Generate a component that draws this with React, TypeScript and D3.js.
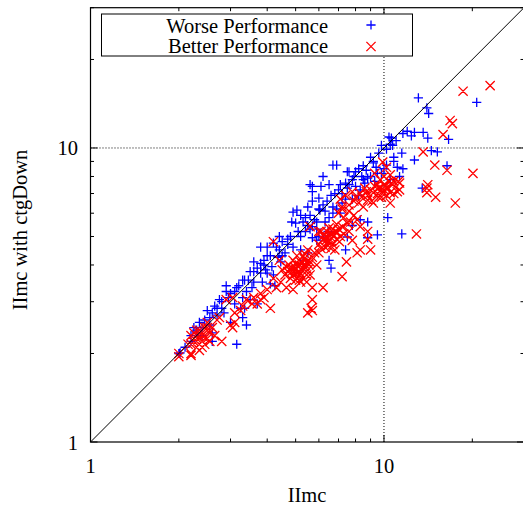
import React from 'react';
import * as d3 from 'd3';

// IImc (x) vs IImc with ctgDown (y)
const worse: [number, number][] = [
  [20.7, 14.3], [13.1, 14.8], [14.0, 13.7], [14.2, 13.1], [16.6, 10.7], [12.0, 11.4], [12.4, 11.0],
  [12.7, 11.3], [11.6, 11.2], [13.6, 11.3], [14.1, 10.8], [10.6, 10.8], [14.5, 9.8], [15.2, 9.7],
  [16.4, 8.7], [13.5, 7.3], [10.3, 5.8], [11.5, 5.1], [9.5, 5.06], [10.4, 10.9], [10.7, 10.2],
  [9.8, 10.2], [10.2, 9.9], [10.5, 10.3], [9.6, 9.6], [10.8, 9.3], [11.5, 9.6], [11.0, 10.6],
  [6.7, 8.75], [7.5, 8.3], [8.2, 8.5], [9.2, 8.9], [10.2, 8.75], [11.1, 8.6], [11.6, 8.5],
  [12.7, 9.1], [6.2, 8.0], [5.7, 7.4], [6.1, 7.4], [6.5, 7.5], [7.1, 7.5], [7.4, 7.6], [7.8, 7.8],
  [8.3, 7.2], [8.8, 7.9], [9.5, 8.2], [9.8, 8.2], [10.5, 7.8], [11.3, 8.0], [5.7, 6.6], [6.0, 6.75],
  [5.05, 6.15], [4.9, 6.05], [4.85, 5.6], [5.0, 5.55], [5.5, 5.45], [5.9, 5.6], [6.05, 6.15],
  [6.7, 6.0], [7.1, 6.0], [7.8, 5.45], [8.3, 5.7], [8.8, 5.6], [7.5, 4.98], [7.4, 4.5], [8.8, 4.95],
  [6.5, 4.15], [6.6, 3.9], [5.7, 4.95], [5.9, 4.86], [6.2, 4.98], [6.45, 5.2], [3.8, 4.6], [4.0, 4.6],
  [4.2, 4.75], [4.5, 4.8], [4.7, 4.7], [4.35, 4.25], [3.9, 4.15], [3.8, 4.05], [3.6, 4.1], [3.5, 3.8],
  [3.45, 3.55], [3.8, 3.75], [4.0, 3.75], [4.2, 3.7], [4.25, 3.4], [4.1, 3.45], [3.85, 3.5], [3.3, 3.55],
  [3.15, 3.35], [3.1, 3.25], [2.9, 3.4], [2.9, 3.25], [2.95, 3.1], [3.4, 3.25], [3.5, 3.05], [3.7, 2.95],
  [3.1, 2.95], [3.25, 2.85], [3.35, 2.85], [2.75, 3.05], [2.8, 2.85], [2.7, 2.85], [2.6, 2.75],
  [2.7, 2.7], [2.85, 2.75], [2.5, 2.8], [2.55, 2.65], [3.0, 2.55], [3.3, 2.65], [3.4, 2.5], [2.35, 2.55],
  [2.4, 2.45], [2.3, 2.4], [2.6, 2.2], [2.6, 2.35], [3.15, 2.15], [2.25, 2.45], [2.3, 2.35], [2.2, 2.3],
  [2.0, 2.0], [2.02, 2.01], [2.1, 2.1], [5.2, 4.5], [5.5, 4.4], [5.3, 4.15], [5.7, 5.4], [5.6, 5.3],
  [6.0, 5.0], [5.6, 7.5], [5.7, 7.1], [7.6, 8.3], [6.9, 8.75], [3.6, 3.8], [3.9, 4.0], [4.4, 4.5],
  [4.6, 4.4], [4.8, 5.0], [5.1, 5.2], [5.3, 5.6], [5.6, 5.9], [6.2, 6.4], [6.6, 6.9], [7.0, 7.2],
  [7.6, 7.5], [8.0, 8.3], [8.5, 8.7], [9.0, 9.3], [6.3, 6.1], [6.7, 6.3], [7.2, 6.5], [7.8, 6.7],
  [8.2, 6.9], [8.6, 7.6], [3.35, 3.55],
  [3.0, 3.2], [3.2, 3.4], [3.3, 3.1], [3.6, 3.5], [3.7, 3.9], [4.1, 4.3], [4.3, 4.6], [4.5, 4.3],
  [4.7, 4.9], [4.9, 4.6], [5.2, 5.0], [5.4, 5.2], [5.4, 5.8], [5.8, 5.7], [6.0, 6.2], [6.4, 6.6],
  [6.8, 7.0], [7.2, 7.0], [7.5, 7.3], [7.9, 8.0], [8.4, 8.0], [8.7, 8.4], [9.2, 9.0], [9.4, 8.6],
  [2.8, 3.0], [2.65, 2.9], [2.45, 2.6], [2.55, 2.5], [2.2, 2.2], [2.4, 2.3], [3.55, 3.35], [3.95, 3.85],
  [4.45, 4.1], [4.15, 3.95], [5.9, 5.3], [6.3, 5.6], [6.5, 5.8], [6.9, 6.2], [7.4, 6.7], [8.0, 7.4],
  [8.5, 7.8], [9.0, 8.0], [9.3, 7.7], [10.0, 8.5], [10.8, 9.0], [5.5, 6.3], [5.2, 5.9], [4.4, 5.0],
  [4.0, 4.3],
];

const better: [number, number][] = [
  [23, 16.3], [18.6, 15.6], [16.8, 12.4], [17.1, 12.1], [15.9, 11.1], [13.6, 9.7], [14.9, 8.75],
  [16.4, 8.4], [20.1, 8.2], [14.1, 7.5], [14.0, 7.3], [15.0, 6.8], [17.5, 6.5], [12.9, 5.1],
  [2.2, 2.3], [2.25, 2.25], [2.3, 2.2], [2.35, 2.3], [2.4, 2.35], [2.3, 2.4], [2.4, 2.2], [2.45, 2.3],
  [2.35, 2.15], [2.5, 2.4], [2.3, 2.1], [2.4, 2.1], [2.45, 2.45], [2.2, 2.15], [2.5, 2.25], [2.55, 2.35],
  [2.0, 2.0], [2.0, 1.95], [2.2, 2.0], [2.15, 2.15], [2.5, 2.45], [2.5, 2.55], [2.7, 2.6], [2.75, 2.65],
  [3.0, 2.5], [3.1, 2.55], [2.8, 2.2], [3.25, 2.8], [3.1, 2.75], [2.9, 3.05], [3.05, 3.1], [3.4, 3.05],
  [3.55, 2.95], [3.8, 3.2], [3.9, 3.1], [3.8, 3.05], [4.3, 3.35], [4.65, 3.35], [4.9, 3.3], [4.1, 2.85],
  [3.7, 2.95], [4.2, 4.8], [4.4, 4.15], [4.65, 3.95], [4.7, 3.8], [4.8, 3.9], [4.9, 3.7], [5.0, 3.85],
  [5.1, 3.95], [5.2, 3.75], [5.3, 3.9], [5.0, 4.05], [5.2, 4.1], [5.4, 4.0], [5.5, 3.85], [5.1, 3.65],
  [5.3, 3.6], [4.9, 4.15], [5.6, 4.1], [5.7, 4.25], [5.4, 4.35], [5.8, 4.4], [5.5, 4.5], [4.8, 3.6],
  [5.0, 3.55], [5.2, 3.5], [5.6, 3.7], [5.9, 4.0], [4.6, 3.7], [5.35, 4.2], [5.05, 4.3], [4.95, 3.95],
  [5.25, 3.85], [5.15, 4.0], [5.45, 3.7], [4.5, 3.85], [5.45, 3.5], [5.7, 3.35], [6.2, 3.35], [7.2, 3.65],
  [7.45, 4.1], [5.7, 3.05], [5.65, 2.85], [5.5, 2.75], [5.7, 2.8], [6.2, 4.9], [6.4, 5.0], [6.6, 5.1],
  [6.8, 5.2], [7.0, 5.3], [6.5, 4.8], [6.7, 4.7], [6.9, 4.9], [7.1, 5.0], [6.3, 4.6], [6.0, 4.7],
  [6.6, 4.55], [7.2, 5.4], [6.8, 4.5], [7.3, 5.1], [6.1, 5.2], [6.5, 5.35], [6.9, 5.5], [7.8, 4.85],
  [8.3, 4.5], [9.0, 4.5], [8.3, 5.4], [8.8, 5.2], [7.5, 5.55], [8.8, 4.9], [8.1, 4.4], [7.1, 6.7],
  [7.4, 6.9], [7.8, 7.1], [8.0, 6.8], [8.3, 7.0], [8.6, 7.3], [8.8, 6.9], [9.0, 7.2], [9.3, 7.4],
  [9.5, 7.0], [9.8, 7.2], [10.0, 7.5], [10.3, 7.3], [10.6, 7.6], [8.2, 6.5], [7.6, 6.4], [9.1, 6.6],
  [10.8, 7.0], [11.2, 7.7], [7.2, 6.2], [8.5, 6.3], [9.6, 6.8], [10.2, 6.9], [10.5, 6.5], [11.3, 7.2],
  [10.7, 7.5], [14.0, 7.05], [5.6, 5.4], [6.0, 5.2], [6.4, 5.2], [7.0, 6.0], [7.3, 5.8], [7.6, 6.1],
  [7.9, 5.9], [7.2, 6.3], [7.7, 5.6], [8.8, 6.65], [9.2, 6.5], [9.8, 6.8], [10.5, 7.05], [10.2, 8.6],
  [9.9, 8.95], [11.1, 7.1], [9.3, 8.2], [9.7, 7.8], [10.0, 8.0], [10.5, 8.1], [10.0, 7.2], [9.5, 7.5],
  [10.8, 7.7], [11.3, 7.6], [2.2, 1.97], [3.05, 2.45], [2.45, 2.15], [2.25, 2.35],
  [2.3, 2.25], [2.35, 2.4], [2.4, 2.3], [2.45, 2.25], [2.25, 2.2], [2.35, 2.05], [2.6, 2.45], [2.55, 2.2],
  [2.65, 2.3], [5.1, 3.8], [5.25, 4.05], [5.35, 3.95], [4.85, 3.8], [5.05, 3.75], [5.45, 4.1], [5.55, 4.0],
  [5.15, 3.55], [5.3, 4.3], [4.75, 4.0], [6.35, 4.85], [6.55, 5.0], [6.75, 5.05], [6.95, 5.15], [6.45, 4.65],
  [7.05, 4.8], [6.25, 5.05], [6.7, 5.3], [8.7, 7.1], [9.2, 7.05], [9.6, 7.3], [9.9, 7.0], [10.1, 7.4],
  [8.4, 6.8], [7.9, 6.6], [10.4, 7.7], [3.6, 3.1], [4.0, 3.3], [4.45, 3.5], [3.3, 2.9], [4.2, 3.6],
  [6.0, 4.4], [6.1, 4.55], [7.6, 5.2], [8.1, 5.7],
];

const majorTicks = [1, 10];
const minorTicks = [2, 3, 4, 5, 6, 7, 8, 9, 20, 30];
const seriesLabels = ['Worse Performance', 'Better Performance'];
const xLabel = 'IImc';
const yLabel = 'IImc with ctgDown';

const font = 'Liberation Serif, serif';
const blue = '#0000ff';
const red = '#ff0000';

function plus(cx: number, cy: number, r = 4.6) {
  return `M${cx - r},${cy}H${cx + r}M${cx},${cy - r}V${cy + r}`;
}
function cross(cx: number, cy: number, r = 4.6) {
  return `M${cx - r},${cy - r}L${cx + r},${cy + r}M${cx - r},${cy + r}L${cx + r},${cy - r}`;
}

export default function App() {
  const width = 523;
  const height = 505;
  const x = d3.scaleLog().domain([1, 30]).range([90.5, 524]);
  const y = d3.scaleLog().domain([1, 30]).range([442, 7.7]);
  const [x0, x1] = x.range();
  const [y0, y1] = y.range();

  const diag = d3.line<number>().x(d => x(d)).y(d => y(d))([1, 30]) || '';

  const ticks = [
    ...majorTicks.map(t => ({ t, len: 7 })),
    ...minorTicks.map(t => ({ t, len: 3.5 })),
  ];

  const textStyle = { fontFamily: font, fontSize: '20.5px', fill: '#000' };

  return (
    <svg width={width} height={height} style={{ position: 'absolute', left: 0, top: 0, background: '#fff' }}>
      <rect width={width} height={height} fill="#fff" />

      {/* grid at 10 */}
      {majorTicks.filter(t => t !== 1).map(t => (
        <g key={'g' + t} stroke="#000" strokeWidth={1} strokeDasharray="1,2">
          <line x1={x(t)} x2={x(t)} y1={y0} y2={y1} />
          <line x1={x0} x2={x1} y1={y(t)} y2={y(t)} />
        </g>
      ))}

      {/* ticks on all four sides */}
      <g stroke="#000" strokeWidth={1}>
        {ticks.map(({ t, len }) => (
          <g key={'t' + t}>
            <line x1={x(t)} x2={x(t)} y1={y0} y2={y0 - len} />
            <line x1={x(t)} x2={x(t)} y1={y1} y2={y1 + len} />
            <line x1={x0} x2={x0 + len} y1={y(t)} y2={y(t)} />
            <line x1={x1} x2={x1 - len} y1={y(t)} y2={y(t)} />
          </g>
        ))}
      </g>

      {/* points */}
      <path d={worse.map(d => plus(x(d[0]), y(d[1]))).join('')} stroke={blue} strokeWidth={1.3} fill="none" />
      <path d={better.map(d => cross(x(d[0]), y(d[1]))).join('')} stroke={red} strokeWidth={1.3} fill="none" />

      {/* y = x */}
      <path d={diag} stroke="#000" strokeWidth={1} fill="none" />

      {/* frame */}
      <rect x={x0} y={y1} width={x1 - x0} height={y0 - y1} fill="none" stroke="#000" strokeWidth={1.2} />

      {/* tick labels */}
      <g style={textStyle}>
        {majorTicks.map(t => (
          <text key={'xl' + t} x={x(t)} y={472.5} textAnchor="middle">{t}</text>
        ))}
        {majorTicks.map(t => (
          <text key={'yl' + t} x={78} y={y(t) + 7.5} textAnchor="end">{t}</text>
        ))}
        <text x={307} y={502} textAnchor="middle">{xLabel}</text>
        <text transform={`translate(27,230) rotate(-90)`} textAnchor="middle">{yLabel}</text>
      </g>

      {/* legend */}
      <rect x={101.5} y={14} width={311} height={42} fill="#fff" stroke="#000" strokeWidth={1} />
      <g style={textStyle}>
        {seriesLabels.map((s, i) => (
          <text key={s} x={328} y={32.5 + i * 20.5} textAnchor="end">{s}</text>
        ))}
      </g>
      <path d={plus(371, 25)} stroke={blue} strokeWidth={1.3} fill="none" />
      <path d={cross(371, 46.5)} stroke={red} strokeWidth={1.3} fill="none" />
    </svg>
  );
}
